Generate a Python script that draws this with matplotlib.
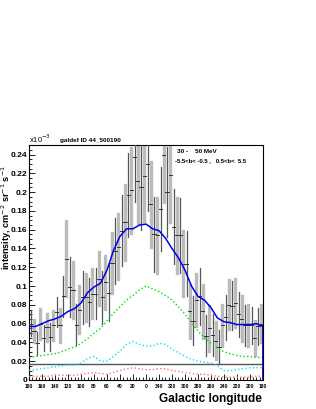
import numpy as np
import matplotlib
matplotlib.use('Agg')
import matplotlib.pyplot as plt
from matplotlib.ticker import MultipleLocator, FixedLocator

plt.rcParams['font.family'] = ['Liberation Sans', 'DejaVu Sans']

# data points, longitude bins of 5 deg from l=180 down to l=-180
lon_pts = [177.5 - 5 * i for i in range(72)]
flux = [0.060, 0.052, 0.039, 0.060, 0.045, 0.056, 0.046, 0.058, 0.072, 0.058,
        0.089, 0.129, 0.099, 0.096, 0.059, 0.075, 0.088, 0.088, 0.083, 0.092,
        0.092, 0.108, 0.088, 0.104, 0.093, 0.125, 0.137, 0.142, 0.159, 0.168,
        0.197, 0.202, 0.237, 0.212, 0.205, 0.217, 0.230, 0.187, 0.155, 0.154,
        0.182, 0.240, 0.200, 0.218, 0.163, 0.154, 0.154, 0.124, 0.124, 0.073,
        0.063, 0.085, 0.089, 0.073, 0.047, 0.055, 0.048, 0.042, 0.035, 0.058,
        0.067, 0.080, 0.079, 0.082, 0.070, 0.065, 0.058, 0.058, 0.058, 0.045,
        0.057, 0.060]
flux_err = [0.013, 0.012, 0.012, 0.016, 0.014, 0.014, 0.015, 0.015, 0.016, 0.018,
            0.022, 0.040, 0.032, 0.030, 0.022, 0.025, 0.028, 0.025, 0.026, 0.026,
            0.027, 0.028, 0.028, 0.028, 0.030, 0.032, 0.035, 0.035, 0.038, 0.040,
            0.045, 0.045, 0.048, 0.045, 0.045, 0.048, 0.050, 0.045, 0.040, 0.040,
            0.045, 0.050, 0.048, 0.050, 0.040, 0.040, 0.040, 0.035, 0.035, 0.028,
            0.026, 0.028, 0.030, 0.028, 0.022, 0.024, 0.022, 0.020, 0.018, 0.022,
            0.024, 0.026, 0.026, 0.026, 0.024, 0.024, 0.022, 0.022, 0.020, 0.018,
            0.020, 0.020]

# model curves on a 10 deg grid
lon_mod = [180 - 10 * i for i in range(37)]
total = [0.057, 0.057, 0.060, 0.063, 0.065, 0.068, 0.073, 0.076, 0.082, 0.093,
         0.099, 0.103, 0.117, 0.138, 0.153, 0.161, 0.161, 0.165, 0.166, 0.161,
         0.159, 0.151, 0.140, 0.130, 0.117, 0.100, 0.089, 0.085, 0.077, 0.066,
         0.062, 0.061, 0.059, 0.059, 0.059, 0.060, 0.057]
pion = [0.024, 0.025, 0.026, 0.027, 0.028, 0.030, 0.033, 0.035, 0.039, 0.044,
        0.050, 0.055, 0.063, 0.071, 0.078, 0.085, 0.090, 0.096, 0.100, 0.097,
        0.094, 0.090, 0.085, 0.078, 0.070, 0.061, 0.052, 0.045, 0.039, 0.034,
        0.030, 0.028, 0.026, 0.025, 0.025, 0.024, 0.024]
ics = [0.010, 0.011, 0.012, 0.013, 0.014, 0.015, 0.016, 0.016, 0.018, 0.023,
       0.025, 0.020, 0.020, 0.025, 0.031, 0.038, 0.041, 0.038, 0.036, 0.036,
       0.039, 0.038, 0.033, 0.029, 0.025, 0.022, 0.020, 0.019, 0.018, 0.015,
       0.010, 0.010, 0.011, 0.012, 0.013, 0.013, 0.013]
brems = [0.004, 0.004, 0.004, 0.004, 0.005, 0.005, 0.005, 0.005, 0.006, 0.007,
         0.008, 0.007, 0.006, 0.008, 0.010, 0.012, 0.013, 0.012, 0.011, 0.011,
         0.012, 0.012, 0.010, 0.009, 0.008, 0.007, 0.006, 0.006, 0.005, 0.004,
         0.003, 0.003, 0.003, 0.003, 0.003, 0.004, 0.004]
isotropic = 0.017

fig = plt.figure(figsize=(3.16, 4.09), dpi=100)
ax = fig.add_axes([0.092, 0.071, 0.74, 0.574])

# error bars: alternate dark and light grey
for i, (l, f, e) in enumerate(zip(lon_pts, flux, flux_err)):
    if i % 2 == 0:
        ax.plot([l, l], [f - e, f + e], color='#555555', lw=0.9, zorder=3)
    else:
        ax.plot([l, l], [f - e, f + e], color='#bbbbbb', lw=2.4, zorder=2)
    ax.plot([l - 2.5, l + 2.5], [f, f], color='#333333', lw=0.7, zorder=4)

ax.axhline(isotropic, color='#555555', lw=1.0, zorder=3)
ax.plot(lon_mod, brems, color='#ff7070', lw=1.0, ls=':', zorder=5)
ax.plot(lon_mod, ics, color='#00e5ee', lw=1.0, ls=':', zorder=5)
ax.plot(lon_mod, pion, color='#00dd00', lw=1.0, ls=':', zorder=5)
ax.plot(lon_mod, total, color='#0000ee', lw=1.1, zorder=6)
ax.plot([lon_mod[-1], lon_mod[-1]], [total[-1], 0], color='#0000ee', lw=1.3, zorder=6)

ax.set_xlim(180, -180)
ax.set_ylim(0, 0.25)

xt = list(range(180, -181, -20))
ax.xaxis.set_major_locator(FixedLocator(xt))
ax.set_xticklabels([str(t % 360) for t in xt], fontsize=3.6, fontweight='bold')
ax.xaxis.set_minor_locator(MultipleLocator(5))
yt = [0.02 * k for k in range(13)]
ax.yaxis.set_major_locator(FixedLocator(yt))
ax.set_yticklabels(['0'] + ['%g' % round(v, 2) for v in yt[1:]], fontsize=6.0,
                   fontweight='bold')
ax.yaxis.set_minor_locator(MultipleLocator(0.005))
ax.tick_params(which='both', direction='in', top=False, right=False, width=0.6)
ax.tick_params(which='major', length=4, pad=1.2)
ax.tick_params(axis='x', which='major', pad=3)
ax.tick_params(which='minor', length=2)
for s in ax.spines.values():
    s.set_linewidth(0.8)

ax.set_ylabel(r'intensity, cm$^{-2}$ sr$^{-1}$ s$^{-1}$', fontsize=6.6,
              fontweight='bold', labelpad=1)
ax.yaxis.set_label_coords(-0.065, 0.69)
fig.text(0.83, 0.018, 'Galactic longitude', ha='right', fontsize=8.5,
         fontweight='bold')

fig.text(0.092, 0.650, r'x10$^{-3}$', fontsize=5.5)
fig.text(0.19, 0.653, 'galdef ID 44_500190', fontsize=4.6, fontweight='bold')
fig.text(0.56, 0.627, '30 -    50 MeV', fontsize=4.6, fontweight='bold')
fig.text(0.555, 0.604, '-5.5<b< -0.5 ,   0.5<b<  5.5', fontsize=4.3,
         fontweight='bold')

fig.savefig('out.png', dpi=100)
